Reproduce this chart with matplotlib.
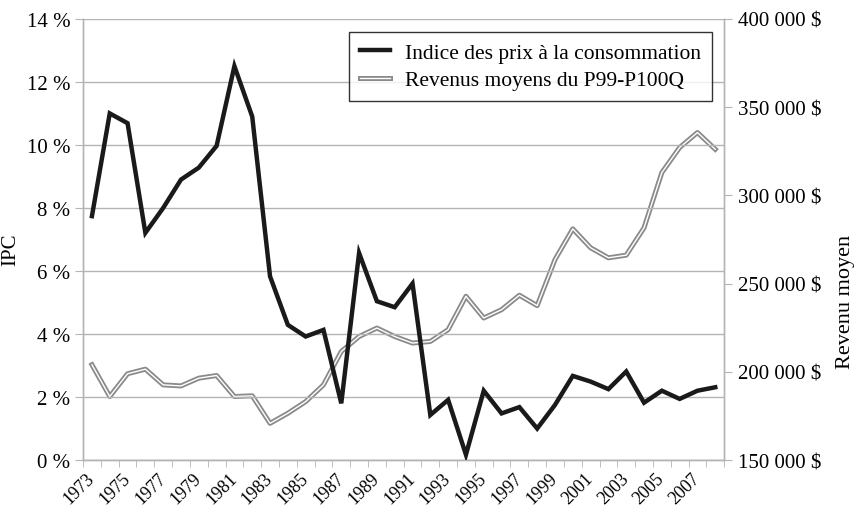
import matplotlib
matplotlib.use("Agg")
import matplotlib.pyplot as plt
import matplotlib.patheffects as pe
from matplotlib.ticker import FuncFormatter, FixedLocator

plt.rcParams['font.family'] = ['Liberation Serif', 'DejaVu Serif']

# Data
years = list(range(1973, 2009))
ipc = [7.74, 11.0, 10.69, 7.21, 8.0, 8.9, 9.28, 9.97, 12.5, 10.9,
       5.83, 4.29, 3.92, 4.13, 1.80, 6.57, 5.04, 4.85, 5.6, 1.43,
       1.91, 0.17, 2.2, 1.48, 1.68, 1.0, 1.75, 2.67, 2.49, 2.25,
       2.81, 1.82, 2.2, 1.94, 2.2, 2.31]
revenu = [204000, 186000, 198900, 201500, 192600, 192000, 196400, 197900, 186000, 186400,
          170800, 176500, 183100, 192600, 211500, 220000, 224800, 220000, 216300, 217200,
          223900, 242800, 230500, 235200, 243400, 237500, 263600, 281000, 270300, 264600,
          266100, 281600, 312900, 327100, 335600, 326100]

label_ipc = "Indice des prix à la consommation"
label_rev = "Revenus moyens du P99-P100Q"

fig = plt.figure(figsize=(8.56, 5.10), dpi=100)
ax = fig.add_axes([0.097, 0.096, 0.749, 0.865])
ax2 = ax.twinx()

x = list(range(len(years)))
grid_col = "#b4b4b4"
fs = 15

for y in range(0, 15, 2):
    ax.axhline(y, color=grid_col, lw=1.0, zorder=0)

l1, = ax.plot(x, ipc, color="#1a1a1a", lw=3.2, solid_joinstyle="miter", label=label_ipc, zorder=3)
l2, = ax2.plot(x, revenu, color="white", lw=1.0, label=label_rev, zorder=2,
               path_effects=[pe.Stroke(linewidth=3.6, foreground="#8a8a8a"), pe.Normal()])
ax.set_zorder(ax2.get_zorder() + 1)
ax.patch.set_visible(False)

ax.set_xlim(-0.5, len(years) - 0.5)
ax.set_ylim(0, 14)
ax2.set_ylim(150000, 400000)

ax.set_yticks(range(0, 15, 2))
ax.yaxis.set_major_formatter(FuncFormatter(lambda v, p: f"{int(v)} %"))
ax2.set_yticks(range(150000, 400001, 50000))
ax2.yaxis.set_major_formatter(FuncFormatter(lambda v, p: f"{int(v):,} $".replace(",", " ")))

ax.xaxis.set_major_locator(FixedLocator(x[::2]))
ax.set_xticklabels([str(y) for y in years[::2]], rotation=45, ha="right", va="center",
                   rotation_mode="anchor")
ax.xaxis.set_minor_locator(FixedLocator([i - 0.5 for i in range(len(years) + 1)]))
ax.tick_params(axis="x", which="major", length=0, labelsize=13, pad=11)
ax.tick_params(axis="x", which="minor", length=5, color=grid_col, direction="out")
ax.tick_params(axis="y", length=6, color=grid_col, labelsize=fs, pad=3)
ax2.tick_params(axis="y", length=6, color=grid_col, labelsize=fs, pad=4)

for a in (ax, ax2):
    a.spines["top"].set_visible(False)
    for s in ("left", "right", "bottom"):
        a.spines[s].set_color(grid_col)
        a.spines[s].set_linewidth(1.0)

ax.set_ylabel("IPC", fontsize=fs)
ax.yaxis.set_label_coords(-0.098, 0.48)
ax2.set_ylabel("Revenu moyen", fontsize=16)
ax2.yaxis.set_label_coords(1.174, 0.36)

leg = ax.legend(handles=[l1, l2], loc="upper right", bbox_to_anchor=(0.981, 0.9705),
                fontsize=15.5, frameon=True, fancybox=False, handlelength=1.4,
                borderpad=0.5, labelspacing=0.35, handletextpad=0.7, borderaxespad=0)
leg.get_frame().set_edgecolor("black")
leg.get_frame().set_linewidth(1.0)

fig.savefig("out.png", dpi=100)
